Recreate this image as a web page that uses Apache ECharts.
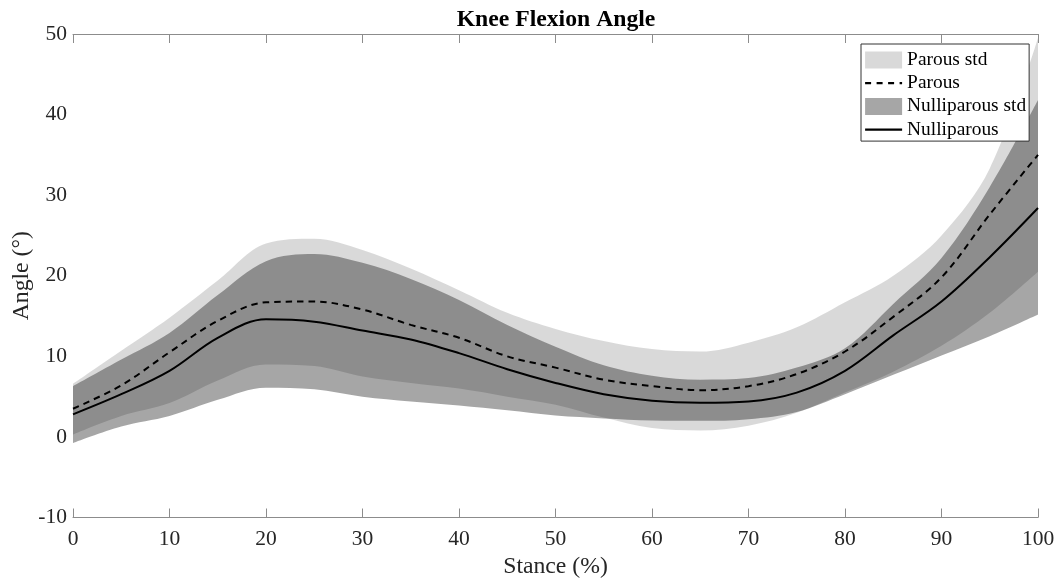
<!DOCTYPE html>
<html>
<head>
<meta charset="utf-8">
<script src="https://cdn.jsdelivr.net/npm/echarts@6/dist/echarts.min.js"></script>
<style>
html,body{margin:0;padding:0;background:#fff;}
#chart{width:1059px;height:584px;}
</style>
</head>
<body>
<div id="chart"></div>
<script>
// Stance (%) sample positions
const stance = [0,5,10,15,20,25,30,35,40,45,50,55,60,65,70,75,80,85,90,95,100];

// Parous group
const parousMean  = [3.5,6.4,10.5,14.4,16.7,16.8,15.8,13.9,12.3,10.0,8.6,7.1,6.3,5.8,6.3,7.8,10.6,14.9,19.8,27.6,35.0];
const parousUpper = [6.6,10.7,14.8,19.4,24.0,24.6,23.2,20.9,18.2,15.4,13.4,11.9,10.9,10.6,11.7,13.6,16.7,20.0,25.0,33.3,49.5];
const parousLower = [0.3,2.6,4.2,7.0,9.0,8.8,7.5,6.7,6.0,5.0,4.0,2.4,1.1,0.8,1.4,3.0,5.5,8.1,11.3,15.4,20.5];

// Nulliparous group
const nulliMean  = [2.8,5.3,8.2,12.3,14.6,14.3,13.2,12.1,10.4,8.4,6.7,5.3,4.5,4.25,4.4,5.5,8.2,12.6,16.8,22.3,28.4];
const nulliUpper = [6.3,9.6,12.9,17.6,21.8,22.7,21.6,19.6,17.0,13.9,11.2,8.9,7.6,7.1,7.3,8.6,11.0,16.5,22.2,31.0,41.8];
const nulliLower = [-0.75,1.3,2.6,4.6,6.1,5.9,5.0,4.4,3.9,3.3,2.65,2.3,2.05,2.0,2.2,3.1,5.3,7.7,10.1,12.5,15.2];

// Axis ticks
const xTicks = [0,10,20,30,40,50,60,70,80,90,100];
const yTicks = [-10,0,10,20,30,40,50];

const FONT = 'Liberation Serif';
const AXIS_GRAY = '#8c8c8c';
const TEXT = '#262626';
const SMOOTH = 0.35;

const spans = (hi, lo) => hi.map((v, i) => +(v - lo[i]).toFixed(4));
const isMajor = v => xTicks.indexOf(Number(v)) >= 0;

const xBase = {
  type: 'category',
  data: stance.map(String),
  boundaryGap: false,
  splitLine: {show: false},
  axisLine: {onZero: false, lineStyle: {color: AXIS_GRAY, width: 1}},
  axisTick: {inside: true, length: 9, interval: (i, v) => isMajor(v), lineStyle: {color: AXIS_GRAY, width: 1}}
};
const yBase = {
  type: 'value',
  min: yTicks[0], max: yTicks[yTicks.length - 1], interval: yTicks[1] - yTicks[0],
  splitLine: {show: false},
  axisLine: {onZero: false, lineStyle: {color: AXIS_GRAY, width: 1}},
  axisTick: {inside: true, length: 9, lineStyle: {color: AXIS_GRAY, width: 1}}
};

const bandLower = (name, stack, data) => ({
  name, type: 'line', stack, stackStrategy: 'all', data,
  smooth: SMOOTH, symbol: 'none', silent: true,
  lineStyle: {width: 0, opacity: 0}, z: 1
});
const bandSpan = (name, stack, data, color) => ({
  name, type: 'line', stack, stackStrategy: 'all', data,
  smooth: SMOOTH, symbol: 'none', silent: true,
  lineStyle: {width: 0, opacity: 0},
  itemStyle: {color},
  areaStyle: {color, opacity: 1}, z: 1
});

const chart = echarts.init(document.getElementById('chart'), null, {renderer: 'canvas'});
chart.setOption({
  animation: false,
  backgroundColor: '#ffffff',
  title: {
    text: 'Knee Flexion Angle',
    left: 551, top: 3, textAlign: 'center',
    textStyle: {fontFamily: FONT, fontWeight: 'bold', fontSize: 23.7, color: '#000'}
  },
  grid: {left: 73, right: 21, top: 34, bottom: 66.5, containLabel: false, outerBoundsMode: 'none'},
  legend: {
    orient: 'vertical',
    left: 861, top: 44,
    padding: [6.5, 3, 2, 3],
    itemGap: 4.2,
    itemWidth: 37, itemHeight: 17,
    borderColor: '#333', borderWidth: 1,
    backgroundColor: '#fff',
    selectedMode: false,
    textStyle: {fontFamily: FONT, fontSize: 19.4, color: '#000'},
    data: [
      {name: 'Parous std', icon: 'rect', itemStyle: {color: '#d9d9d9', borderWidth: 0}},
      {name: 'Parous', itemStyle: {opacity: 0}, lineStyle: {type: [6, 5.5], width: 2.2}},
      {name: 'Nulliparous std', icon: 'rect', itemStyle: {color: '#a6a6a6', borderWidth: 0}},
      {name: 'Nulliparous', itemStyle: {opacity: 0}, lineStyle: {width: 2.2}}
    ]
  },
  xAxis: [
    Object.assign({}, xBase, {
      position: 'bottom',
      name: 'Stance (%)', nameLocation: 'middle', nameGap: 37, nameMoveOverlap: false,
      nameTextStyle: {fontFamily: FONT, fontSize: 23.7, color: TEXT},
      axisLabel: {fontFamily: FONT, fontSize: 21.5, color: TEXT, margin: 11, interval: (i, v) => isMajor(v)}
    }),
    Object.assign({}, xBase, {position: 'top', axisLabel: {show: false}})
  ],
  yAxis: [
    Object.assign({}, yBase, {
      position: 'left',
      name: 'Angle (°)', nameLocation: 'middle', nameGap: 39, nameMoveOverlap: false,
      nameTextStyle: {fontFamily: FONT, fontSize: 23.7, color: TEXT},
      axisLabel: {fontFamily: FONT, fontSize: 21.5, color: TEXT, margin: 6}
    }),
    Object.assign({}, yBase, {position: 'right', axisLabel: {show: false}})
  ],
  series: [
    bandLower('parousLow', 'parous', parousLower),
    bandSpan('Parous std', 'parous', spans(parousUpper, parousLower), 'rgba(0,0,0,0.149)'),
    {
      name: 'Parous', type: 'line', data: parousMean,
      smooth: SMOOTH, symbol: 'none', z: 3,
      itemStyle: {color: '#000'},
      lineStyle: {color: '#000', width: 2, type: [6.5, 5]}
    },
    bandLower('nulliLow', 'nulli', nulliLower),
    bandSpan('Nulliparous std', 'nulli', spans(nulliUpper, nulliLower), 'rgba(0,0,0,0.349)'),
    {
      name: 'Nulliparous', type: 'line', data: nulliMean,
      smooth: SMOOTH, symbol: 'none', z: 3,
      itemStyle: {color: '#000'},
      lineStyle: {color: '#000', width: 2, type: 'solid'}
    }
  ]
});
</script>
</body>
</html>
